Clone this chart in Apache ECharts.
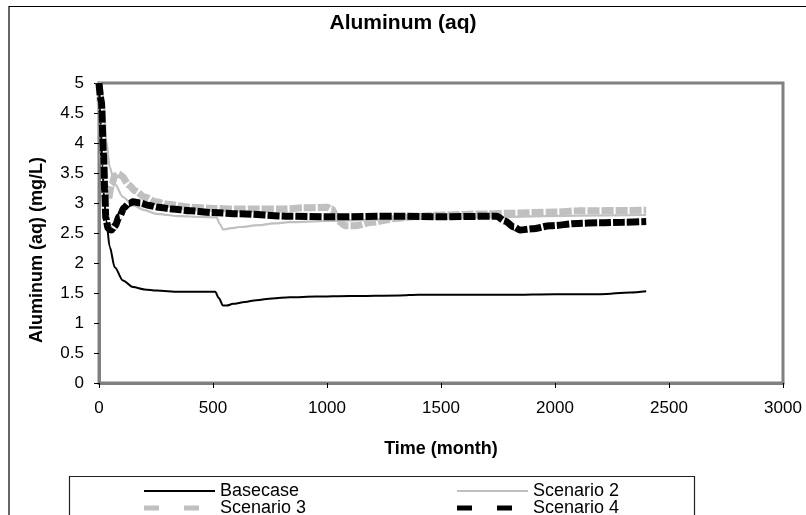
<!DOCTYPE html>
<html>
<head>
<meta charset="utf-8">
<script src="https://cdn.jsdelivr.net/npm/echarts@6/dist/echarts.min.js"></script>
<style>
html,body{margin:0;padding:0;background:#fff;}
#chart{width:806px;height:515px;}
</style>
</head>
<body>
<div id="chart"></div>
<script>
// ---- Data ----
const chartTitle = 'Aluminum (aq)';
const xAxisName = 'Time (month)';
const yAxisName = 'Aluminum (aq) (mg/L)';
const seriesNames = ['Basecase', 'Scenario 2', 'Scenario 3', 'Scenario 4'];

const timeBase = [0, 8, 15, 22, 32, 47, 69, 105, 149, 200, 252, 350, 450, 510, 525, 544, 560, 588, 640, 690, 760, 837, 950, 1100, 1320, 1400, 1600, 1800, 2000, 2200, 2330, 2400];
const valBase  = [5.0, 4.3, 3.6, 3.1, 2.71, 2.27, 1.93, 1.71, 1.6, 1.56, 1.54, 1.52, 1.52, 1.52, 1.42, 1.29, 1.29, 1.32, 1.35, 1.38, 1.41, 1.43, 1.44, 1.45, 1.46, 1.47, 1.47, 1.47, 1.48, 1.48, 1.51, 1.53];

const timeS2 = [0, 10, 20, 32, 47, 69, 105, 149, 200, 252, 354, 450, 515, 530, 544, 580, 617, 700, 764, 837, 1000, 1200, 1500, 1800, 2100, 2400];
const valS2  = [5.0, 5.0, 4.7, 4.04, 3.6, 3.32, 3.1, 2.96, 2.88, 2.82, 2.78, 2.77, 2.76, 2.65, 2.56, 2.58, 2.6, 2.63, 2.66, 2.68, 2.7, 2.72, 2.74, 2.77, 2.79, 2.8];

const timeS3 = [0, 10, 20, 30, 40, 55, 70, 85, 100, 130, 160, 200, 250, 300, 400, 500, 600, 700, 800, 900, 1000, 1020, 1050, 1080, 1120, 1200, 1300, 1400, 1500, 1700, 1800, 2000, 2100, 2400];
const valS3  = [5.0, 4.5, 3.6, 3.0, 3.05, 3.3, 3.45, 3.49, 3.45, 3.3, 3.2, 3.1, 3.02, 2.98, 2.93, 2.91, 2.9, 2.9, 2.9, 2.92, 2.93, 2.9, 2.7, 2.62, 2.62, 2.68, 2.74, 2.78, 2.8, 2.82, 2.83, 2.85, 2.87, 2.88];

const timeS4 = [0, 10, 20, 25, 30, 40, 55, 70, 90, 110, 130, 150, 180, 220, 260, 320, 400, 500, 617, 837, 1000, 1320, 1500, 1744, 1780, 1820, 1846, 1900, 1978, 2100, 2197, 2300, 2400];
const valS4  = [5.0, 4.7, 3.8, 3.2, 2.75, 2.58, 2.55, 2.62, 2.78, 2.92, 2.99, 3.02, 3.0, 2.96, 2.93, 2.9, 2.87, 2.84, 2.82, 2.78, 2.77, 2.78, 2.77, 2.78, 2.7, 2.6, 2.55, 2.57, 2.62, 2.66, 2.67, 2.68, 2.69];

const xTicks = {min: 0, max: 3000, interval: 500};
const yTicks = {min: 0, max: 5, interval: 0.5};

function pairs(t, v) { return t.map((x, i) => [x, v[i]]); }

const FONT = 'Liberation Sans, Arial, sans-serif';
const chart = echarts.init(document.getElementById('chart'), null, {renderer: 'canvas'});

const legendText = {fontFamily: FONT, fontSize: 18, color: '#000', lineHeight: 18};
const solidIcon = 'path://M0,0h71v2h-71z';
const dashIcon = 'path://M0,0h15v5h-15zM40,0h15v5h-15z';
function oneLegend(name, left, top, icon, w, h, pad) {
  return {
    data: [{name: name, icon: icon}],
    left: left, top: top, padding: 0, orient: 'vertical',
    itemWidth: w, itemHeight: h, itemGap: 0, selectedMode: false,
    textStyle: Object.assign({}, legendText, {padding: [0, 0, 0, pad]})
  };
}

const option = {
  animation: false,
  backgroundColor: '#ffffff',
  title: {
    text: chartTitle,
    left: 'center',
    top: 8,
    textStyle: {fontFamily: FONT, fontSize: 21, fontWeight: 'bold', color: '#000'}
  },
  graphic: [
    {type: 'rect', shape: {x: 9, y: 6.5, width: 900, height: 600}, style: {fill: null, stroke: '#000', lineWidth: 1.2}, silent: true, z: 0},
    {type: 'rect', shape: {x: 69.5, y: 476.5, width: 625, height: 60}, style: {fill: '#fff', stroke: '#222', lineWidth: 1.2}, silent: true, z: 0}
  ],
  grid: {
    left: 99, top: 83, right: 23, bottom: 132,
    show: true, borderColor: '#808080', borderWidth: 3, backgroundColor: '#fff'
  },
  legend: [
    oneLegend(seriesNames[0], 144, 482, solidIcon, 71, 2, 0),
    oneLegend(seriesNames[2], 144, 499, dashIcon, 55, 5, 16),
    oneLegend(seriesNames[1], 457, 482, solidIcon, 71, 2, 0),
    oneLegend(seriesNames[3], 457, 499, dashIcon, 55, 5, 16)
  ],
  xAxis: {
    type: 'value', min: xTicks.min, max: xTicks.max, interval: xTicks.interval,
    name: xAxisName, nameLocation: 'middle', nameGap: 57,
    nameTextStyle: {fontFamily: FONT, fontSize: 18, fontWeight: 'bold', color: '#000'},
    axisLine: {show: true, lineStyle: {color: '#808080', width: 3}},
    axisTick: {show: true, length: 5, lineStyle: {color: '#000', width: 1}},
    axisLabel: {margin: 17, fontFamily: FONT, fontSize: 17, color: '#000', formatter: v => String(v)},
    splitLine: {show: false}
  },
  yAxis: {
    type: 'value', min: yTicks.min, max: yTicks.max, interval: yTicks.interval,
    name: yAxisName, nameLocation: 'middle', nameGap: 53,
    nameTextStyle: {fontFamily: FONT, fontSize: 18, fontWeight: 'bold', color: '#000', padding: [0, 34, 0, 0]},
    axisLine: {show: true, lineStyle: {color: '#808080', width: 3}},
    axisTick: {show: true, length: 5, lineStyle: {color: '#000', width: 1}},
    axisLabel: {margin: 15, fontFamily: FONT, fontSize: 17, color: '#000', formatter: v => String(v)},
    splitLine: {show: false}
  },
  series: [
    {name: seriesNames[0], type: 'line', data: pairs(timeBase, valBase), symbol: 'none', smooth: 0.3, smoothMonotone: 'x',
     lineStyle: {color: '#000', width: 2}, itemStyle: {color: '#000'}, z: 2},
    {name: seriesNames[1], type: 'line', data: pairs(timeS2, valS2), symbol: 'none', smooth: 0.3, smoothMonotone: 'x',
     lineStyle: {color: '#c0c0c0', width: 2.2}, itemStyle: {color: '#c0c0c0'}, z: 3},
    {name: seriesNames[2], type: 'line', data: pairs(timeS3, valS3), symbol: 'none', smooth: 0.3, smoothMonotone: 'x',
     lineStyle: {color: '#c0c0c0', width: 7, type: [12, 2]}, itemStyle: {color: '#c0c0c0'}, z: 4},
    {name: seriesNames[3], type: 'line', data: pairs(timeS4, valS4), symbol: 'none', smooth: 0.3, smoothMonotone: 'x',
     lineStyle: {color: '#000', width: 7, type: [12, 2]}, itemStyle: {color: '#000'}, z: 5}
  ]
};
chart.setOption(option);
</script>
</body>
</html>
